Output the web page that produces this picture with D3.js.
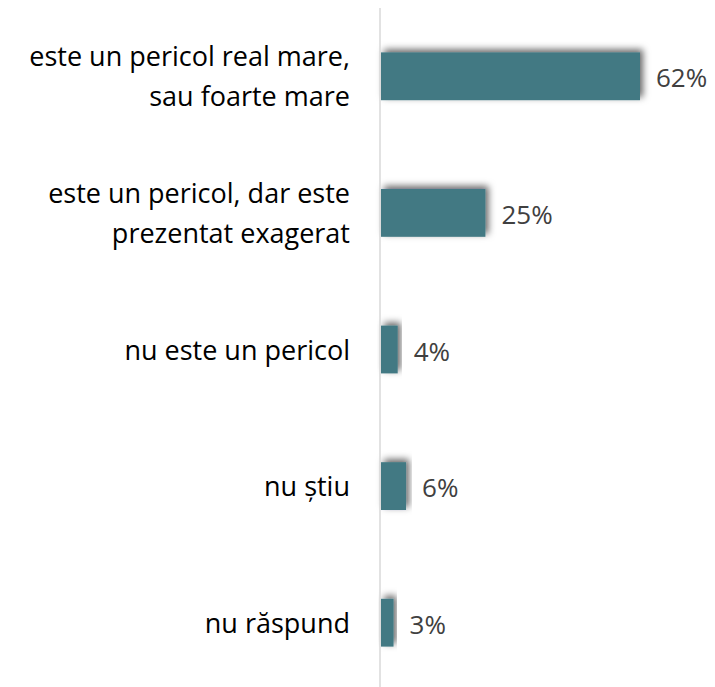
<!DOCTYPE html>
<html>
<head>
<meta charset="utf-8">
<script src="https://cdn.jsdelivr.net/npm/d3@7"></script>
<style>
  html, body { margin: 0; padding: 0; background: #fff; }
  svg { display: block; }
</style>
</head>
<body>
<svg id="chart" width="715" height="687"></svg>
<script>
// Answer categories (each entry split into display lines)
const categories = [
  ["este un pericol real mare,", "sau foarte mare"],
  ["este un pericol, dar este", "prezentat exagerat"],
  ["nu este un pericol"],
  ["nu știu"],
  ["nu răspund"]
];
// Share of respondents, percent
const values = [62, 25, 4, 6, 3];
const valueLabels = ["62%", "25%", "4%", "6%", "3%"];

const W = 715, H = 687;
const axisX = 380;
const svg = d3.select("#chart");

const defs = svg.append("defs");
const f = defs.append("filter").attr("id", "shadow")
  .attr("x", "-20%").attr("y", "-40%").attr("width", "140%").attr("height", "180%");
f.append("feDropShadow").attr("dx", 3).attr("dy", -3).attr("stdDeviation", 3.5)
  .attr("flood-color", "#000").attr("flood-opacity", 0.6);

const idx = d3.range(categories.length);
const y = d3.scaleBand().domain(idx).range([8, 691]).paddingInner(0.65).paddingOuter(0.325);
const x = d3.scaleLinear().domain([0, 62]).range([axisX + 1, 640]);

svg.append("g").selectAll("rect").data(idx).join("rect")
  .attr("x", x(0))
  .attr("y", i => y(i))
  .attr("width", i => x(values[i]) - x(0))
  .attr("height", y.bandwidth())
  .attr("fill", "#427983")
  .attr("filter", "url(#shadow)");

// vertical category axis
svg.append("line")
  .attr("x1", axisX).attr("x2", axisX)
  .attr("y1", 8).attr("y2", H)
  .attr("stroke", "#d9d9d9").attr("stroke-width", 1.5);

const font = "'Open Sans', sans-serif";
const lineH = 40;

const labels = svg.append("g").selectAll("text").data(idx).join("text")
  .attr("text-anchor", "end")
  .attr("font-family", font)
  .attr("font-size", 27)
  .attr("fill", "#000");
labels.each(function(i) {
  const lines = categories[i];
  const cy = y(i) + y.bandwidth() / 2 + 2;
  const t = d3.select(this);
  lines.forEach((ln, k) => {
    t.append("tspan")
      .attr("x", 350)
      .attr("y", cy + (k - (lines.length - 1) / 2) * lineH)
      .attr("dy", "0.3em")
      .text(ln);
  });
});

svg.append("g").selectAll("text").data(idx).join("text")
  .attr("x", i => x(values[i]) + 16)
  .attr("y", i => y(i) + y.bandwidth() / 2 + 2)
  .attr("dy", "0.35em")
  .attr("font-family", font)
  .attr("font-size", 26)
  .attr("fill", "#404040")
  .text(i => valueLabels[i]);
</script>
</body>
</html>
